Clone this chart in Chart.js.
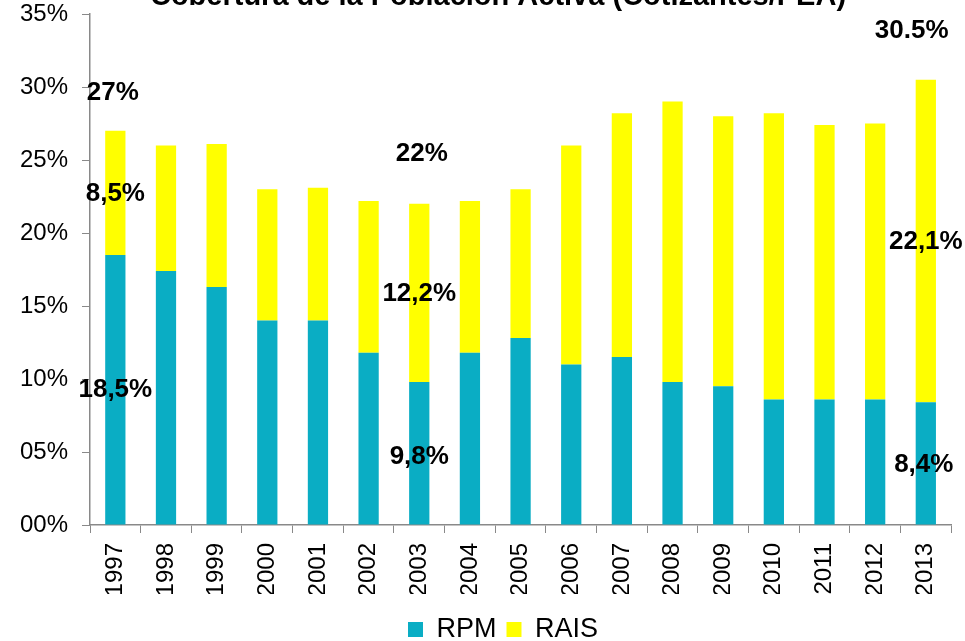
<!DOCTYPE html>
<html>
<head>
<meta charset="utf-8">
<script src="https://cdn.jsdelivr.net/npm/chart.js@4"></script>
<style>
  body { margin: 0; background: #fff; }
  #wrap { width: 965px; height: 641px; }
</style>
</head>
<body>
<div id="wrap"><canvas id="coberturaChart" width="965" height="641"></canvas></div>
<script>
// Datos: cobertura de la población activa (%)
const years = ['1997', '1998', '1999', '2000', '2001', '2002', '2003', '2004', '2005',
               '2006', '2007', '2008', '2009', '2010', '2011', '2012', '2013'];
const rpm  = [18.5, 17.4, 16.3, 14.0, 14.0, 11.8, 9.8, 11.8, 12.8, 11.0, 11.5, 9.8, 9.5, 8.6, 8.6, 8.6, 8.4];
const rais = [8.5, 8.6, 9.8, 9.0, 9.1, 10.4, 12.2, 10.4, 10.2, 15.0, 16.7, 19.2, 18.5, 19.6, 18.8, 18.9, 22.1];
const yTickLabels = ['00%', '05%', '10%', '15%', '20%', '25%', '30%', '35%'];

const titleText = 'Cobertura de la Población Activa (Cotizantes/PEA)';

// anotaciones: texto, posición (índice de categoría, valor en %)
const noteTexts = ['27%', '8,5%', '18,5%', '22%', '12,2%', '9,8%', '30.5%', '22,1%', '8,4%'];
const noteX     = [-0.05, 0, 0, 6.05, 6, 6, 15.72, 16, 15.96];
const noteY     = [29.6, 22.7, 9.25, 25.4, 15.85, 4.66, 33.84, 19.38, 4.11];

const FONT = '"Liberation Sans", Arial, sans-serif';

const notesPlugin = {
    id: 'notes',
    afterLayout(chart) {
        // leyenda un poco más a la derecha y abajo, como en el original
        const lg = chart.legend;
        lg.left += 27; lg.right += 27;
        lg.top += 12; lg.bottom += 12;
    },
    afterDatasetsDraw(chart) {
        const { ctx, scales: { x, y } } = chart;
        ctx.save();
        ctx.fillStyle = '#000';
        ctx.font = 'bold 26px ' + FONT;
        ctx.textAlign = 'center';
        ctx.textBaseline = 'middle';
        noteTexts.forEach((t, i) => {
            ctx.fillText(t, x.getPixelForValue(noteX[i]), y.getPixelForValue(noteY[i]));
        });
        // título (cortado arriba en el original)
        ctx.font = 'bold 29px ' + FONT;
        ctx.textBaseline = 'alphabetic';
        ctx.fillText(titleText, 498, 5);
        ctx.restore();
    }
};

const ctx = document.getElementById('coberturaChart').getContext('2d');
new Chart(ctx, {
    type: 'bar',
    data: {
        labels: years,
        datasets: [
            { label: 'RPM', data: rpm, backgroundColor: '#0aadc4', borderWidth: 0 },
            { label: 'RAIS', data: rais, backgroundColor: '#ffff00', borderWidth: 0 }
        ]
    },
    options: {
        responsive: false,
        animation: false,
        barPercentage: 0.4,
        categoryPercentage: 1,
        layout: { padding: { left: 0, right: 13, top: 14, bottom: 0 } },
        scales: {
            x: {
                stacked: true,
                afterFit: s => { s.height = 69; },
                grid: { offset: true, drawOnChartArea: false, color: '#898989', tickLength: 8 },
                border: { color: '#898989', width: 1.5 },
                ticks: {
                    color: '#000',
                    font: { family: FONT, size: 24 },
                    minRotation: 90,
                    maxRotation: 90,
                    padding: 10
                }
            },
            y: {
                stacked: true,
                min: 0,
                max: 35,
                afterFit: s => { s.width = 90; s.paddingTop = 0; s.paddingBottom = 0; },
                grid: { drawOnChartArea: false, color: '#898989', tickLength: 8 },
                border: { color: '#898989', width: 1.5 },
                ticks: {
                    stepSize: 5,
                    color: '#000',
                    font: { family: FONT, size: 24 },
                    padding: 14,
                    callback: (v, i) => yTickLabels[i]
                }
            }
        },
        plugins: {
            legend: {
                position: 'bottom',
                labels: {
                    color: '#000',
                    font: { family: FONT, size: 27 },
                    boxWidth: 15,
                    boxHeight: 15,
                    padding: 10
                }
            },
            tooltip: { enabled: false }
        }
    },
    plugins: [notesPlugin]
});
</script>
</body>
</html>
